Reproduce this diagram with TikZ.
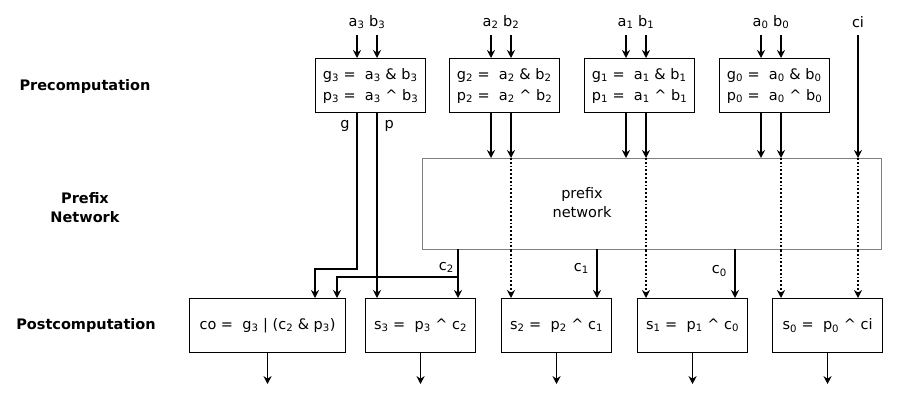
\documentclass[tikz,border=0pt]{standalone}
\usepackage{fontspec}
\setmainfont{DejaVu Sans}
\usetikzlibrary{positioning}
\usetikzlibrary{calc}
\usetikzlibrary{arrows.meta}
\newcommand{\lowidx}[1]{\textsubscript{#1}}
\newcommand{\xo}{\textasciicircum}

\begin{document}
\begin{tikzpicture}[x=1pt,y=-1pt,font=\fontsize{14.5}{21}\selectfont,
	blk/.style={draw,line width=1.1pt,inner sep=0pt,minimum width=110pt,minimum height=54pt,anchor=north west,align=left},
	wire/.style={line width=1.8pt,-{Stealth[length=8pt,width=8pt]}},
	dots/.style={wire,dotted},
	stage/.style={font=\fontsize{14.5}{19}\selectfont\bfseries,align=center}]
	\useasboundingbox (0,0) rectangle (910,405);
	% Stage labels %
	\node [stage] (lpre) at (85,86) {Precomputation};
	\node [stage] (lnet) at (85,208) {Prefix\\Network};
	\node [stage] (lpost) at (86,325) {Postcomputation};
	% Precomputation %
	\foreach \i/\x in {3/315, 2/449, 1/584, 0/719} {
		\node [blk] (pre\i) at (\x,58) {g\lowidx{\i} = \ a\lowidx{\i} \& b\lowidx{\i}\\p\lowidx{\i} = \ a\lowidx{\i} \xo\ b\lowidx{\i}};
		\node (in\i) at (\x+52,22) {a\lowidx{\i} b\lowidx{\i}};
		\coordinate (ia\i) at (\x+42,35);
		\coordinate (ib\i) at (\x+62,35);
		\draw [wire] (ia\i) -- (ia\i |- pre\i.north);
		\draw [wire] (ib\i) -- (ib\i |- pre\i.north);
	}
	\node (ci) at (858,22) {ci};
	% Prefix network %
	\node [draw=gray,line width=1pt,minimum width=459pt,minimum height=91pt,anchor=north west] (net) at (422,158) {};
	\node [align=center,font=\fontsize{14.5}{19}\selectfont] (nettext) at (582,203) {prefix\\network};
	% Postcomputation %
	\node [blk,minimum width=156pt] (co) at (189,298) {co = \ g\lowidx{3} | (c\lowidx{2} \& p\lowidx{3})};
	\node [blk,align=center] (s3) at (365,298) {s\lowidx{3} = \ p\lowidx{3} \xo\ c\lowidx{2}};
	\node [blk,align=center] (s2) at (501,298) {s\lowidx{2} = \ p\lowidx{2} \xo\ c\lowidx{1}};
	\node [blk,align=center] (s1) at (637,298) {s\lowidx{1} = \ p\lowidx{1} \xo\ c\lowidx{0}};
	\node [blk,align=center] (s0) at (772,298) {s\lowidx{0} = \ p\lowidx{0} \xo\ ci};
	\foreach \n in {co,s3,s2,s1,s0} {
		\coordinate (out\n) at ($(\n.south)+(0,31)$);
		\draw [wire] (\n.south) -- (out\n);
	}
	% Wires into the prefix network %
	\foreach \i in {2,1,0} {
		\draw [wire] (ia\i |- pre\i.south) -- (ia\i |- net.north);
		\draw [wire] (ib\i |- pre\i.south) -- (ib\i |- net.north);
		\draw [line width=1.8pt,dotted] (ib\i |- net.north) -- (ib\i |- net.south);
	}
	\draw [wire] ($(ci.south)+(0,4)$) -- (ci |- net.north);
	\draw [line width=1.8pt,dotted] (ci |- net.north) -- (ci |- net.south);
	% Bit 3 %
	\coordinate (g3) at (ia3 |- pre3.south);
	\draw [wire] (g3) -- ++(0,156) -| ($(co.north west)+(126,0)$);
	\node [left=4pt of g3,anchor=north east,yshift=-4pt] (lg) {g};
	\coordinate (p3) at (ib3 |- pre3.south);
	\draw [wire] (p3) -- (p3 |- s3.north);
	\node [right=4pt of p3,anchor=north west,yshift=-4pt] (lp) {p};
	% Carries %
	\coordinate (c2) at (458,249);
	\draw [wire] (c2) -- (c2 |- s3.north) node [pos=0.38,left] {c\lowidx{2}};
	\draw [wire] ($(c2)+(0,28)$) -| ($(co.north west)+(148,0)$);
	\coordinate (c1) at (597,249);
	\draw [wire] (c1) -- (c1 |- s2.north) node [pos=0.4,left=4pt] {c\lowidx{1}};
	\coordinate (c0) at (735,249);
	\draw [wire] (c0) -- (c0 |- s1.north) node [pos=0.45,left=4pt] {c\lowidx{0}};
	% Pass-through p and ci %
	\draw [dots] (ib2 |- net.south) -- (ib2 |- s2.north);
	\draw [dots] (ib1 |- net.south) -- (ib1 |- s1.north);
	\draw [dots] (ib0 |- net.south) -- (ib0 |- s0.north);
	\draw [dots] (ci |- net.south) -- (ci |- s0.north);
\end{tikzpicture}
\end{document}
